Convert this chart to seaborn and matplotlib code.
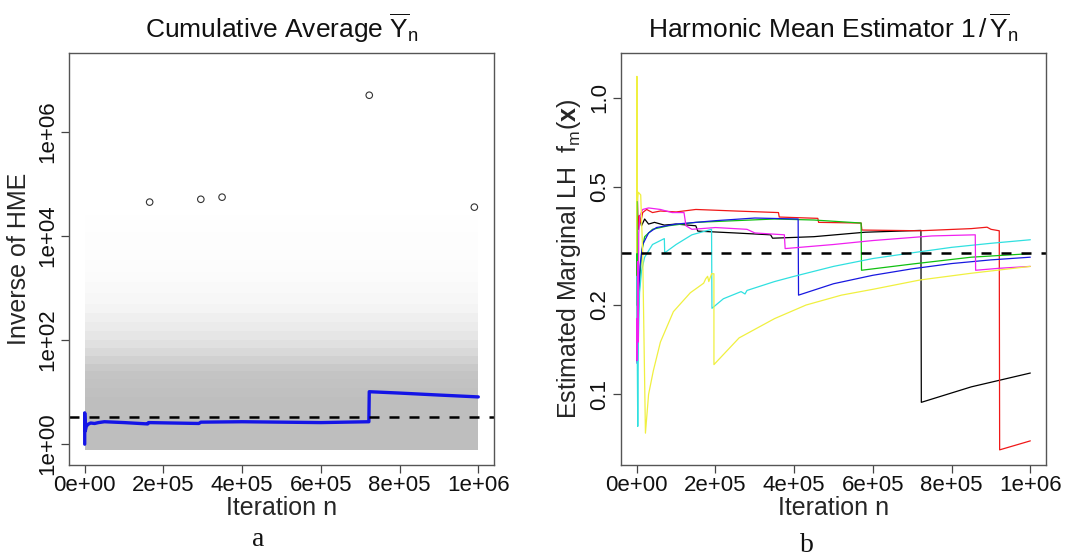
import matplotlib
matplotlib.use('Agg')
import numpy as np
import pandas as pd
import matplotlib.pyplot as plt
import seaborn as sns
from matplotlib.ticker import FixedLocator, NullLocator

# ---- panel a: cumulative average of the inverse likelihood ----
avg_n = [0, 0, 1500, 4000, 8000, 1.5e4, 2.5e4, 3.5e4, 5e4, 1e5, 1.6e5, 1.62e5,
         2.9e5, 2.95e5, 4e5, 6e5, 7.22e5, 7.23e5, 8e5, 9e5, 1e6]
avg_y = [1.0, 4.0, 1.8, 2.2, 2.4, 2.55, 2.5, 2.6, 2.7, 2.6, 2.45, 2.6,
         2.5, 2.65, 2.7, 2.6, 2.7, 10.2, 9.6, 8.8, 8.1]
# the few draws plotted as open circles (far above the cloud)
out_n = [1.65e5, 2.95e5, 3.49e5, 7.23e5, 9.9e5]
out_y = [4.5e4, 5.1e4, 5.6e4, 5.1e6, 3.6e4]
# the cloud of single draws, read as gray density by y band
cloud_edges = [0.77, 8, 12, 18, 25, 35, 50, 70, 100, 150, 220, 330, 500, 800,
               1300, 2000, 3500, 6000, 12000, 25000]
cloud_alpha = [1.0, 0.97, 0.94, 0.9, 0.82, 0.7, 0.58, 0.47, 0.38, 0.3, 0.23, 0.17,
               0.12, 0.085, 0.06, 0.04, 0.025, 0.015, 0.008]
true_inv = 1 / 0.3

# ---- panel b: harmonic mean estimator for seven runs ----
true_lh = 0.3
black_n = [0, 800, 2000, 4000, 7000, 1.2e4, 2e4, 3e4, 4.5e4, 7e4, 1e5, 1.5e5, 1.55e5,
           2.5e5, 3.4e5, 3.45e5, 4.5e5, 5.8e5, 7.22e5, 7.23e5, 8.5e5, 1e6]
black_y = [0.30, 0.56, 0.40, 0.36, 0.40, 0.37, 0.39, 0.375, 0.38, 0.372, 0.375, 0.37, 0.355,
           0.35, 0.345, 0.336, 0.34, 0.352, 0.357, 0.094, 0.106, 0.118]
red_n = [0, 1000, 3000, 6000, 1e4, 1.5e4, 2.5e4, 4e4, 6e4, 1e5, 1.5e5, 2.5e5, 3.6e5, 3.62e5,
         4.6e5, 4.62e5, 5.7e5, 5.72e5, 7.2e5, 8.5e5, 8.9e5, 9e5, 9.21e5, 9.22e5, 1e6]
red_y = [0.25, 0.52, 0.36, 0.40, 0.38, 0.41, 0.42, 0.41, 0.415, 0.412, 0.42, 0.415, 0.41, 0.396,
         0.392, 0.38, 0.378, 0.358, 0.356, 0.362, 0.366, 0.36, 0.356, 0.065, 0.0697]
green_n = [0, 300, 600, 1500, 3000, 6000, 1.2e4, 2e4, 4e4, 8e4, 1.5e5, 2.5e5, 3.5e5, 4.5e5,
           5.7e5, 5.71e5, 7e5, 8.5e5, 1e6]
green_y = [0.2, 1.12, 0.35, 0.15, 0.17, 0.22, 0.30, 0.34, 0.36, 0.37, 0.38, 0.385, 0.39, 0.387,
           0.378, 0.262, 0.275, 0.29, 0.298]
blue_n = [0, 500, 1500, 3000, 5000, 8000, 1.5e4, 3e4, 5e4, 1e5, 2e5, 3e5, 4.1e5, 4.11e5,
          5e5, 6e5, 7e5, 8e5, 9e5, 1e6]
blue_y = [0.13, 0.18, 0.127, 0.17, 0.22, 0.27, 0.32, 0.35, 0.365, 0.375, 0.385, 0.393, 0.39, 0.216,
          0.236, 0.252, 0.265, 0.276, 0.284, 0.29]
cyan_n = [0, 1000, 2500, 4000, 7000, 1.2e4, 2e4, 4e4, 7e4, 7.1e4, 1e5, 1.4e5, 1.9e5, 1.91e5,
          2.2e5, 2.65e5, 2.75e5, 2.8e5, 3.5e5, 4e5, 5e5, 6e5, 7e5, 8e5, 9e5, 1e6]
cyan_y = [0.25, 0.15, 0.078, 0.15, 0.22, 0.26, 0.29, 0.32, 0.335, 0.30, 0.32, 0.345, 0.36, 0.195,
          0.21, 0.222, 0.218, 0.224, 0.24, 0.25, 0.27, 0.287, 0.30, 0.313, 0.323, 0.332]
magenta_n = [0, 1000, 2000, 3500, 5000, 8000, 1.5e4, 3e4, 6e4, 9e4, 1.2e5, 1.25e5, 1.4e5,
             2e5, 2.8e5, 3e5, 3.75e5, 3.77e5, 5e5, 6e5, 7.5e5, 8.6e5, 8.61e5, 9.2e5, 1e6]
magenta_y = [0.18, 0.13, 0.28, 0.15, 0.35, 0.40, 0.42, 0.425, 0.42, 0.41, 0.41, 0.37, 0.36,
             0.365, 0.36, 0.35, 0.345, 0.31, 0.32, 0.33, 0.342, 0.345, 0.262, 0.266, 0.27]
yellow_n = [0, 400, 1500, 4000, 1e4, 1.5e4, 2.2e4, 3e4, 4.2e4, 6e4, 9.3e4, 1.36e5, 1.7e5, 1.75e5,
            1.8e5, 1.83e5, 1.9e5, 1.96e5, 1.961e5, 2.6e5, 3.5e5, 4.3e5, 5.2e5, 6e5, 7.2e5, 8.5e5, 1e6]
yellow_y = [0.3, 1.18, 0.45, 0.48, 0.47, 0.30, 0.074, 0.10, 0.12, 0.15, 0.19, 0.22, 0.237, 0.245,
            0.25, 0.24, 0.255, 0.255, 0.126, 0.155, 0.18, 0.20, 0.216, 0.226, 0.243, 0.256, 0.27]

run_colors = {'black': '#000000', 'red': '#F01818', 'green': '#10C010', 'blue': '#1818E0',
              'cyan': '#30E0E0', 'magenta': '#F020F0', 'yellow': '#F0F040'}
runs = {'black': (black_n, black_y), 'red': (red_n, red_y), 'green': (green_n, green_y),
        'blue': (blue_n, blue_y), 'cyan': (cyan_n, cyan_y),
        'magenta': (magenta_n, magenta_y), 'yellow': (yellow_n, yellow_y)}

x_ticks = [0, 2e5, 4e5, 6e5, 8e5, 1e6]
x_labels = ['0e+00', '2e+05', '4e+05', '6e+05', '8e+05', '1e+06']

sns.set_theme(style='white')
plt.rcParams['font.family'] = ['Liberation Sans', 'DejaVu Sans']
plt.rcParams['mathtext.fontset'] = 'custom'
plt.rcParams['mathtext.rm'] = 'Liberation Sans'
plt.rcParams['mathtext.it'] = 'Liberation Sans'
plt.rcParams['mathtext.bf'] = 'Liberation Sans:bold'
plt.rcParams['text.color'] = '#111111'

fig = plt.figure(figsize=(10.81, 5.57), dpi=100)
ax1 = fig.add_axes([0.0638, 0.1652, 0.3932, 0.7397])
ax2 = fig.add_axes([0.5745, 0.1652, 0.3932, 0.7397])

# panel a
for lo, hi, a in zip(cloud_edges[:-1], cloud_edges[1:], cloud_alpha):
    ax1.fill_between([0, 1e6], lo, hi, color='#BEBEBE', alpha=a, lw=0)
sns.scatterplot(x=out_n, y=out_y, ax=ax1, s=22, facecolor='none',
                edgecolor='#333333', linewidth=0.8, legend=False)
sns.lineplot(x=avg_n, y=avg_y, ax=ax1, estimator=None, sort=False,
             color='#1414E6', lw=2.4)
ax1.axhline(true_inv, color='black', lw=1.8, ls=(0, (4, 4)))
ax1.set_yscale('log')
ax1.set_ylim(10 ** -0.4, 10 ** 7.52)
ax1.yaxis.set_major_locator(FixedLocator([1, 1e2, 1e4, 1e6]))
ax1.yaxis.set_minor_locator(NullLocator())
ax1.set_yticklabels(['1e+00', '1e+02', '1e+04', '1e+06'], rotation=90, va='center')
ax1.set_ylabel('Inverse of HME', fontsize=18, labelpad=5)
ax1.set_title(r'Cumulative Average $\overline{\mathrm{Y}}_\mathrm{n}$', fontsize=19, pad=11)

# panel b
df = pd.concat([pd.DataFrame({'n': n, 'val': v, 'run': k}) for k, (n, v) in runs.items()],
               ignore_index=True)
sns.lineplot(data=df, x='n', y='val', hue='run', palette=run_colors, ax=ax2,
             estimator=None, sort=False, lw=0.9, legend=False)
ax2.axhline(true_lh, color='black', lw=1.8, ls=(0, (4, 4)))
ax2.set_yscale('log')
ax2.set_ylim(0.0578, 1.415)
ax2.yaxis.set_major_locator(FixedLocator([0.1, 0.2, 0.5, 1.0]))
ax2.yaxis.set_minor_locator(NullLocator())
ax2.set_yticklabels(['0.1', '0.2', '0.5', '1.0'], rotation=90, va='center')
ax2.set_ylabel(r'Estimated Marginal LH  $\mathrm{f_m}(\mathbf{x})$', fontsize=18, labelpad=5)
ax2.set_title(r'Harmonic Mean Estimator $1\,/\,\overline{\mathrm{Y}}_\mathrm{n}$', fontsize=19, pad=11)

for ax in (ax1, ax2):
    ax.set_xlim(-4e4, 1.04e6)
    ax.set_xticks(x_ticks)
    ax.set_xticklabels(x_labels)
    ax.set_xlabel('Iteration n', fontsize=18, labelpad=0)
    ax.tick_params(axis='both', labelsize=16, length=5.5, width=0.9, color='#444444',
                   labelcolor='#111111', direction='out', pad=2, left=True, bottom=True)
    for sp in ax.spines.values():
        sp.set_color('#555555')
        sp.set_linewidth(1.0)

fig.text(258 / 1081, 1 - 540 / 557, r'a', fontsize=20, family='Liberation Serif',
         ha='center', va='center')
fig.text(807 / 1081, 1 - 545 / 557, r'b', fontsize=20, family='Liberation Serif',
         ha='center', va='center')

fig.savefig('out.png', dpi=100)
